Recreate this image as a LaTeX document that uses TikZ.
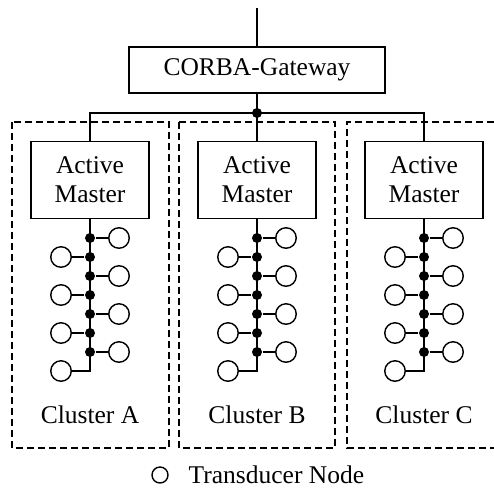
\documentclass[tikz,border=0pt]{standalone}
\usepackage{fontspec}
\setmainfont{Liberation Serif}
\begin{document}
\begin{tikzpicture}[x=1pt, y=-1pt, line width=1.4pt,
  font=\fontsize{25.5}{29}\selectfont,
  box/.style={draw, fill=white, align=center, inner sep=0pt},
  bullet/.style={circle, fill=black, inner sep=0pt, minimum size=10pt},
  tnode/.style={circle, draw, fill=white, inner sep=0pt, minimum size=20.5pt},
  frame/.style={dash pattern=on 7pt off 4pt}]
\useasboundingbox (0,0) rectangle (494,493);
%
\coordinate (top) at (257,8);
\node[box, minimum width=256pt, minimum height=46pt] (gw) at (257,70) {CORBA-Gateway};
\node[bullet] (bus) at (257,113) {};
%
\draw[frame] (12,122) rectangle (169,448);
\draw[frame] (179,122) rectangle (335,448);
\draw[frame] (494,122) -- (347,122) -- (347,448) -- (494,448);
%
\foreach \c/\x in {A/90, B/257, C/424} {
  \node[box, minimum width=118pt, minimum height=77pt] (m\c) at (\x,180) {Active\\Master};
  \foreach \k in {0,...,6}
    \node[bullet] (d\c\k) at (\x,{238+19*\k}) {};
  \foreach \k in {0,2,4,6} {
    \node[tnode] (t\c\k) at ({\x+29},{238+19*\k}) {};
    \draw (d\c\k) -- (t\c\k);
  }
  \foreach \k in {1,3,5} {
    \node[tnode] (t\c\k) at ({\x-29},{238+19*\k}) {};
    \draw (d\c\k) -- (t\c\k);
  }
  \node[tnode] (t\c7) at ({\x-29},371) {};
  \coordinate (e\c) at (\x,371);
  \draw (m\c.south) -- (e\c) -- (t\c7);
  \node (l\c) at (\x,415) {Cluster \c};
}
%
\draw (top) -- (gw.north);
\draw (gw.south) -- (bus.center);
\draw (mA.north) |- (bus.center) -| (mC.north);
\draw (bus.center) -- (mB.north);
%
\node[tnode, minimum size=16pt] (key) at (160,475) {};
\node[anchor=west, inner sep=0pt] (keytext) at (188,475) {Transducer Node};
\end{tikzpicture}
\end{document}
